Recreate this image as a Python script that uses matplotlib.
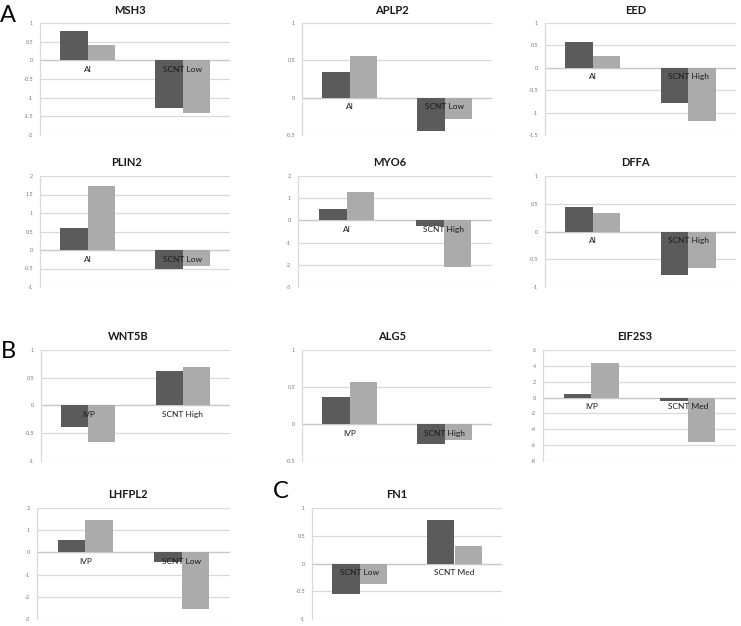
#!/usr/bin/env python3
import matplotlib
matplotlib.use("Agg")
import matplotlib.pyplot as plt
import numpy as np

plt.rcParams['font.family'] = ['Lato', 'DejaVu Sans']

# one entry per small chart
genes = ["MSH3", "APLP2", "EED", "PLIN2", "MYO6", "DFFA",
         "WNT5B", "ALG5", "EIF2S3", "LHFPL2", "FN1"]
groups = [["AI", "SCNT Low"], ["AI", "SCNT Low"], ["AI", "SCNT High"],
          ["AI", "SCNT Low"], ["AI", "SCNT High"], ["AI", "SCNT High"],
          ["IVP", "SCNT High"], ["IVP", "SCNT High"], ["IVP", "SCNT Med"],
          ["IVP", "SCNT Low"], ["SCNT Low", "SCNT Med"]]
dark_vals = [[0.78, -1.27], [0.35, -0.44], [0.57, -0.79],
             [0.60, -0.50], [0.52, -0.25], [0.45, -0.78],
             [-0.39, 0.63], [0.37, -0.27], [0.50, -0.40],
             [0.55, -0.42], [-0.55, 0.78]]
light_vals = [[0.40, -1.42], [0.56, -0.28], [0.27, -1.18],
              [1.72, -0.42], [1.30, -2.12], [0.34, -0.66],
              [-0.65, 0.70], [0.57, -0.22], [4.40, -5.60],
              [1.45, -2.55], [-0.37, 0.32]]
y_min = [-2, -0.5, -1.5, -1, -3, -1, -1, -0.5, -8, -3, -1]
y_max = [1, 1, 1, 2, 2, 1, 1, 1, 6, 2, 1]
y_step = [0.5, 0.5, 0.5, 0.5, 1, 0.5, 0.5, 0.5, 2, 1, 0.5]

# layout in pixels: plot box (left, top, right, bottom) and title centre
W, H = 741, 626
boxes = [(40, 23, 230, 135), (302, 23, 492, 135), (545, 23, 736, 135),
         (40, 176, 230, 287), (298, 176, 492, 287), (545, 176, 736, 287),
         (41, 350, 230, 461), (302, 350, 492, 461), (543, 350, 736, 461),
         (37, 508, 230, 619), (312, 508, 502, 619)]
title_pos = [(130, 10), (392, 10), (636, 10),
             (127, 163), (390, 163), (635, 163),
             (128, 336), (392, 336), (635, 336),
             (128, 495), (397, 495)]

DARK = '#5b5b5b'
LIGHT = '#ababab'
GRID = '#d9d9d9'

fig = plt.figure(figsize=(W / 100, H / 100), dpi=100)

bw = 1 / 3.5  # excel gap width 150%
for i, gene in enumerate(genes):
    l, t, r, b = boxes[i]
    ax = fig.add_axes([l / W, 1 - b / H, (r - l) / W, (b - t) / H])
    x = np.arange(2)
    ax.bar(x - bw / 2, dark_vals[i], bw, color=DARK, zorder=2)
    ax.bar(x + bw / 2, light_vals[i], bw, color=LIGHT, zorder=2)
    ax.set_xlim(-0.5, 1.5)
    ax.set_ylim(y_min[i], y_max[i])
    ticks = np.arange(y_min[i], y_max[i] + y_step[i] / 2, y_step[i])
    ax.set_yticks(ticks)
    ax.set_yticklabels(['%g' % v for v in ticks])
    ax.yaxis.grid(True, color=GRID, linewidth=0.9, zorder=0)
    ax.set_axisbelow(True)
    ax.set_xticks([])
    ax.tick_params(axis='y', length=0, pad=5, labelsize=4, labelcolor='#7a7a7a')
    for s in ['top', 'right', 'bottom']:
        ax.spines[s].set_visible(False)
    ax.spines['left'].set_color(GRID)
    ax.spines['left'].set_linewidth(0.9)
    ax.axhline(0, color='#c8c8c8', linewidth=0.9, zorder=1)
    for j, g in enumerate(groups[i]):
        ax.annotate(g, (j, 0), xytext=(0, -4), textcoords='offset points',
                    ha='center', va='top', fontsize=6, color='#1a1a1a', zorder=5)
    tx, ty = title_pos[i]
    fig.text(tx / W, 1 - ty / H, gene, ha='center', va='center',
             fontsize=8, fontweight='bold', color='#1a1a1a')

# panel letters
fig.text(8 / W, 1 - 15 / H, 'A', ha='center', va='center', fontsize=17)
fig.text(8 / W, 1 - 352 / H, 'B', ha='center', va='center', fontsize=17)
fig.text(281 / W, 1 - 492 / H, 'C', ha='center', va='center', fontsize=17)

fig.savefig('out.png', dpi=100)
